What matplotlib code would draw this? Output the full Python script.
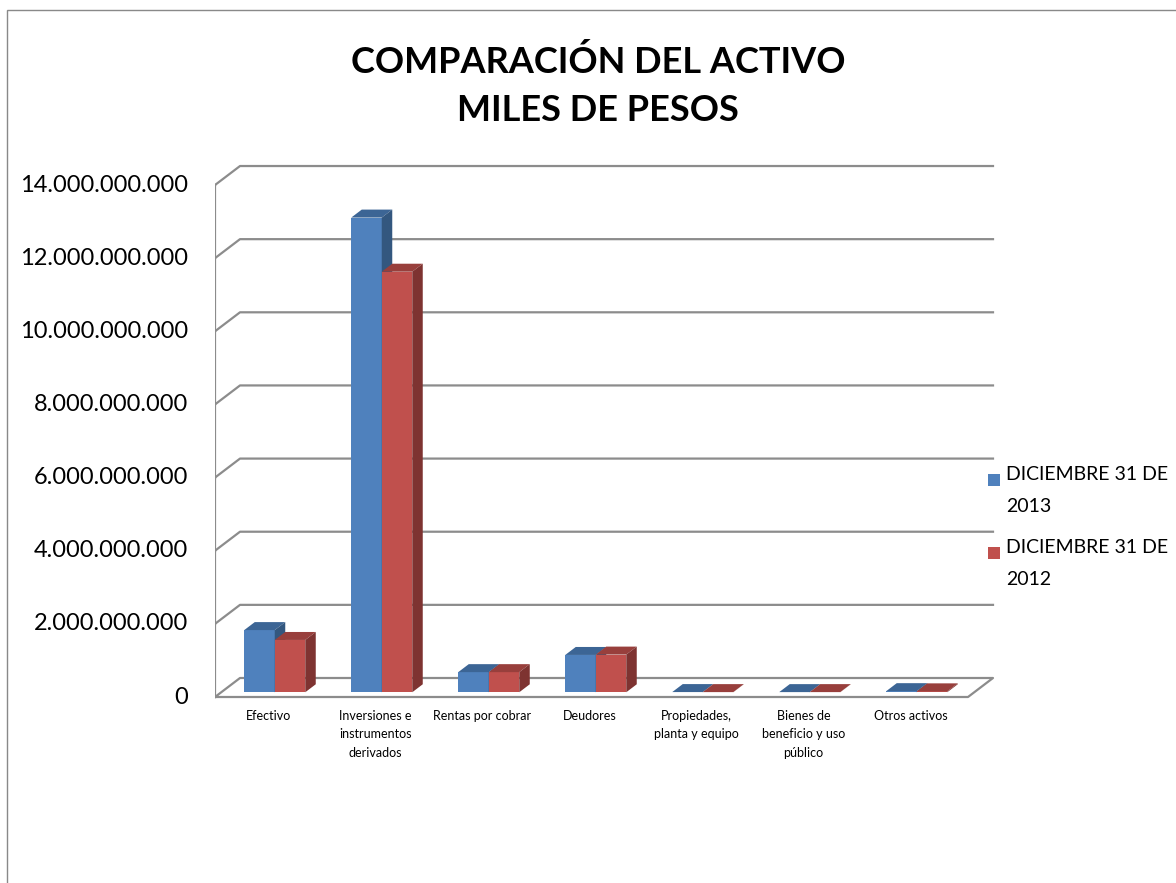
import matplotlib.pyplot as plt
from matplotlib.patches import Polygon, Rectangle
import numpy as np

# ── Data (miles de pesos, expressed in 1e9 units) ─────────────────────────────
categories = [
    "Efectivo",
    "Inversiones e\ninstrumentos\nderivados",
    "Rentas por cobrar",
    "Deudores",
    "Propiedades,\nplanta y equipo",
    "Bienes de\nbeneficio y uso\npúblico",
    "Otros activos",
]
dic_2013 = [1.70, 12.98, 0.55, 1.02, 0.005, 0.004, 0.03]
dic_2012 = [1.43, 11.50, 0.55, 1.03, 0.004, 0.004, 0.025]
series_labels = ["DICIEMBRE 31 DE\n2013", "DICIEMBRE 31 DE\n2012"]
y_ticks = [0, 2, 4, 6, 8, 10, 12, 14]

# ── Styling ───────────────────────────────────────────────────────────────────
FONT = "Lato"
GRID = "#8c8c8c"
FACE = {"front": ["#4f81bd", "#c0504d"],
        "top":   ["#3c6595", "#983f3c"],
        "side":  ["#33577f", "#7e3331"]}

W, H = 1176, 883
PX_X = 107.0      # px per category
PX_Y = 36.57      # px per 1e9
DX, DY = 25 / PX_X, 19 / PX_Y     # depth of the 3D box in data units
F0, FD = 0.25, 0.42               # bar offset / bar depth as fraction of box depth
BAR_W = 30.5 / PX_X

fig = plt.figure(figsize=(W / 100, H / 100), dpi=100)
ax = fig.add_axes([215 / W, 1 - 700 / H, (1000 - 215) / W, (700 - 160) / H])
ax.set_xlim(-0.5, -0.5 + 785 / PX_X)
ax.set_ylim(-3 / PX_Y, (697 - 160) / PX_Y)
ax.axis("off")

x_right = -0.5 + (993 - 215) / PX_X

# ── Walls / gridlines ─────────────────────────────────────────────────────────
for v in y_ticks:
    if v == 0:
        ax.plot([-0.5, x_right - DX, x_right, -0.5 + DX, -0.5],
                [0, 0, DY, DY, 0], color=GRID, lw=1.6, zorder=1)
    else:
        ax.plot([-0.5, -0.5 + DX, x_right], [v, v + DY, v + DY],
                color=GRID, lw=1.6, zorder=1)
    ax.plot([-0.5 - 8 / PX_X, -0.5], [v, v], color=GRID, lw=1.6, zorder=1)
    label = f"{int(v * 1e9):,}".replace(",", ".")
    ax.text(-0.5 - 27 / PX_X, v, label, ha="right", va="center",
            fontsize=17, family=FONT, color="black")
ax.plot([-0.5, -0.5], [0, y_ticks[-1]], color=GRID, lw=1.6, zorder=1)

# ── 3D bars ───────────────────────────────────────────────────────────────────
ox, oy = F0 * DX, F0 * DY
dx, dy = FD * DX, FD * DY
x = np.arange(len(categories))
for i in x:
    for s, vals in enumerate([dic_2013, dic_2012]):
        xl = i - BAR_W + s * BAR_W + ox
        h = vals[i]
        b = oy
        ax.bar(xl, h, width=BAR_W, bottom=b, align="edge",
               color=FACE["front"][s], lw=0, zorder=3)
        t = b + h
        ax.add_patch(Polygon([(xl, t), (xl + BAR_W, t), (xl + BAR_W + dx, t + dy),
                              (xl + dx, t + dy)], closed=True,
                             fc=FACE["top"][s], lw=0, zorder=3))
        ax.add_patch(Polygon([(xl + BAR_W, b), (xl + BAR_W, t),
                              (xl + BAR_W + dx, t + dy), (xl + BAR_W + dx, b + dy)],
                             closed=True, fc=FACE["side"][s], lw=0, zorder=3))
    ax.text(i, -13 / PX_Y, categories[i], ha="center", va="top",
            fontsize=9, family=FONT, linespacing=1.65)

# ── Legend (Excel style, square aligned with first line) ──────────────────────
for s, lab in enumerate(series_labels):
    yc = 480 + s * 73
    fig.add_artist(Rectangle((988 / W, 1 - (yc + 6) / H), 12 / W, 12 / H,
                             transform=fig.transFigure, fc=FACE["front"][s], lw=0))
    fig.text(1006 / W, 1 - (yc - 14) / H, lab, ha="left", va="top",
             fontsize=14, family=FONT, linespacing=2.05)

# ── Title ─────────────────────────────────────────────────────────────────────
fig.text(598 / W, 1 - 86 / H, "COMPARACIÓN DEL ACTIVO\nMILES DE PESOS",
         ha="center", va="center", fontsize=26, fontweight="bold",
         family=FONT, linespacing=1.55)

# ── Chart border ──────────────────────────────────────────────────────────────
fig.add_artist(Rectangle((7 / W, -0.1), 2, 1.1 - 10 / H,
                         transform=fig.transFigure, fill=False,
                         ec="#898989", lw=1))

fig.savefig("out.png", dpi=100)
